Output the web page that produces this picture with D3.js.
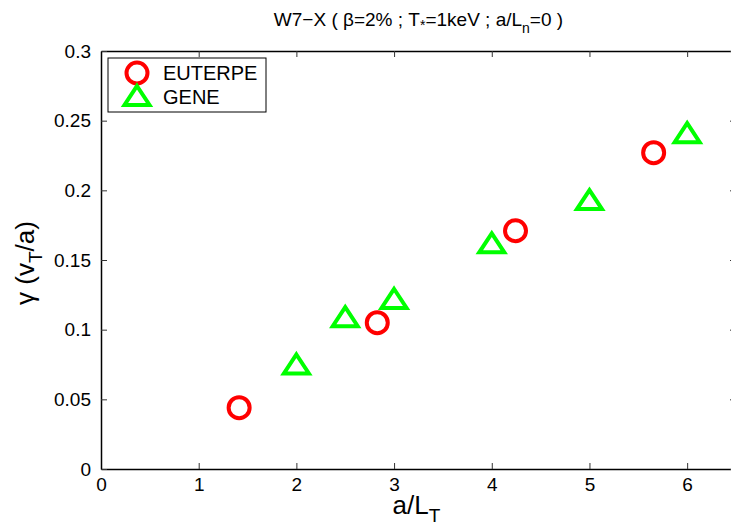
<!DOCTYPE html>
<html>
<head>
<meta charset="utf-8">
<script src="https://cdn.jsdelivr.net/npm/d3@7"></script>
<style>
  body { margin: 0; background: #fff; }
  svg { font-family: "Liberation Sans", Arial, Helvetica, sans-serif; }
</style>
</head>
<body>
<div id="viz"></div>
<script>
// data
let euterpeX = [1.414, 2.828, 4.243, 5.657],
    euterpeY = [0.044, 0.105, 0.171, 0.227];
let geneX = [2, 2.5, 3, 4, 5, 6],
    geneY = [0.075, 0.109, 0.122, 0.162, 0.193, 0.241];
let xTicks = [0, 1, 2, 3, 4, 5, 6],
    yTicks = [0, 0.05, 0.1, 0.15, 0.2, 0.25, 0.3];

let W = 731, H = 525,
    margin = { top: 51, right: -5, bottom: 56, left: 101 },
    width = W - margin.left - margin.right,
    height = H - margin.top - margin.bottom;

let svg = d3.select('#viz').append('svg')
  .attr('width', W)
  .attr('height', H);

let xScale = d3.scaleLinear().domain([0, 6.5]).range([0, width]);
let yScale = d3.scaleLinear().domain([0, 0.3]).range([height, 0]);

let g = svg.append('g')
  .attr('transform', 'translate(' + margin.left + ',' + margin.top + ')');

// ticks inward on all four sides (matlab box on)
let xAxisB = d3.axisBottom(xScale).tickValues(xTicks).tickSizeInner(-6).tickSizeOuter(0).tickPadding(9)
  .tickFormat(d3.format('d'));
let xAxisT = d3.axisTop(xScale).tickValues(xTicks).tickSizeInner(-6).tickSizeOuter(0).tickFormat('');
let yAxisL = d3.axisLeft(yScale).tickValues(yTicks).tickSizeInner(-6).tickSizeOuter(0).tickPadding(10)
  .tickFormat(d => d === 0 ? '0' : String(+d.toFixed(2)));
let yAxisR = d3.axisRight(yScale).tickValues(yTicks).tickSizeInner(-6).tickSizeOuter(0).tickFormat('');

function styleAxis(sel) {
  sel.select('.domain').attr('stroke', '#000').attr('stroke-width', 1.5);
  sel.selectAll('.tick line').attr('stroke', '#333').attr('stroke-width', 1);
  sel.selectAll('.tick text').attr('fill', '#000').style('font-size', '19px');
}

g.append('g').attr('transform', 'translate(0,' + height + ')').call(xAxisB).call(styleAxis);
g.append('g').call(xAxisT).call(styleAxis);
g.append('g').call(yAxisL).call(styleAxis);
g.append('g').attr('transform', 'translate(' + width + ',0)').call(yAxisR).call(styleAxis);

// markers
function triPath(s) {
  return 'M0,' + (-s * 0.8) + 'L' + s + ',' + (s * 0.72) + 'L' + (-s) + ',' + (s * 0.72) + 'Z';
}

g.selectAll('path.gene').data(geneX)
  .enter().append('path')
  .attr('class', 'gene')
  .attr('d', triPath(12.5))
  .attr('transform', function(d, i) {
    return 'translate(' + xScale(d) + ',' + yScale(geneY[i]) + ')';
  })
  .attr('fill', 'none')
  .attr('stroke', '#00ff00')
  .attr('stroke-width', 4);

g.selectAll('circle.euterpe').data(euterpeX)
  .enter().append('circle')
  .attr('class', 'euterpe')
  .attr('cx', d => xScale(d))
  .attr('cy', (d, i) => yScale(euterpeY[i]))
  .attr('r', 10.5)
  .attr('fill', 'none')
  .attr('stroke', '#ff0000')
  .attr('stroke-width', 4);

// legend
let legend = g.append('g').attr('transform', 'translate(7,7)');
legend.append('rect')
  .attr('width', 158).attr('height', 54)
  .attr('fill', '#fff').attr('stroke', '#000').attr('stroke-width', 1);
legend.append('circle')
  .attr('cx', 29).attr('cy', 15).attr('r', 10.5)
  .attr('fill', 'none').attr('stroke', '#ff0000').attr('stroke-width', 4);
legend.append('path')
  .attr('d', triPath(12.5))
  .attr('transform', 'translate(29,38)')
  .attr('fill', 'none').attr('stroke', '#00ff00').attr('stroke-width', 4);
legend.append('text').attr('x', 55).attr('y', 22).style('font-size', '20px').text('EUTERPE');
legend.append('text').attr('x', 55).attr('y', 46).style('font-size', '20px').text('GENE');

// title
let title = svg.append('text')
  .attr('x', margin.left + width / 2)
  .attr('y', 26)
  .attr('text-anchor', 'middle')
  .style('font-size', '19px');
title.append('tspan').text('W7\u2212X ( \u03b2=2% ; T');
title.append('tspan').attr('dy', 4).style('font-size', '14px').text('*');
title.append('tspan').attr('dy', -4).text('=1keV ; a/L');
title.append('tspan').attr('dy', 7).style('font-size', '14px').text('n');
title.append('tspan').attr('dy', -7).text('=0 )');

// axis labels
let xl = svg.append('text')
  .attr('x', margin.left + width / 2 - 2)
  .attr('y', 514)
  .attr('text-anchor', 'middle')
  .style('font-size', '26px');
xl.append('tspan').text('a/L');
xl.append('tspan').attr('dy', 8).style('font-size', '19px').text('T');

let yl = svg.append('text')
  .attr('transform', 'translate(34,' + (margin.top + height / 2 + 3) + ') rotate(-90)')
  .attr('text-anchor', 'middle')
  .style('font-size', '26px');
yl.append('tspan').text('\u03b3 (v');
yl.append('tspan').attr('dy', 8).style('font-size', '19px').text('T');
yl.append('tspan').attr('dy', -8).text('/a)');
</script>
</body>
</html>
